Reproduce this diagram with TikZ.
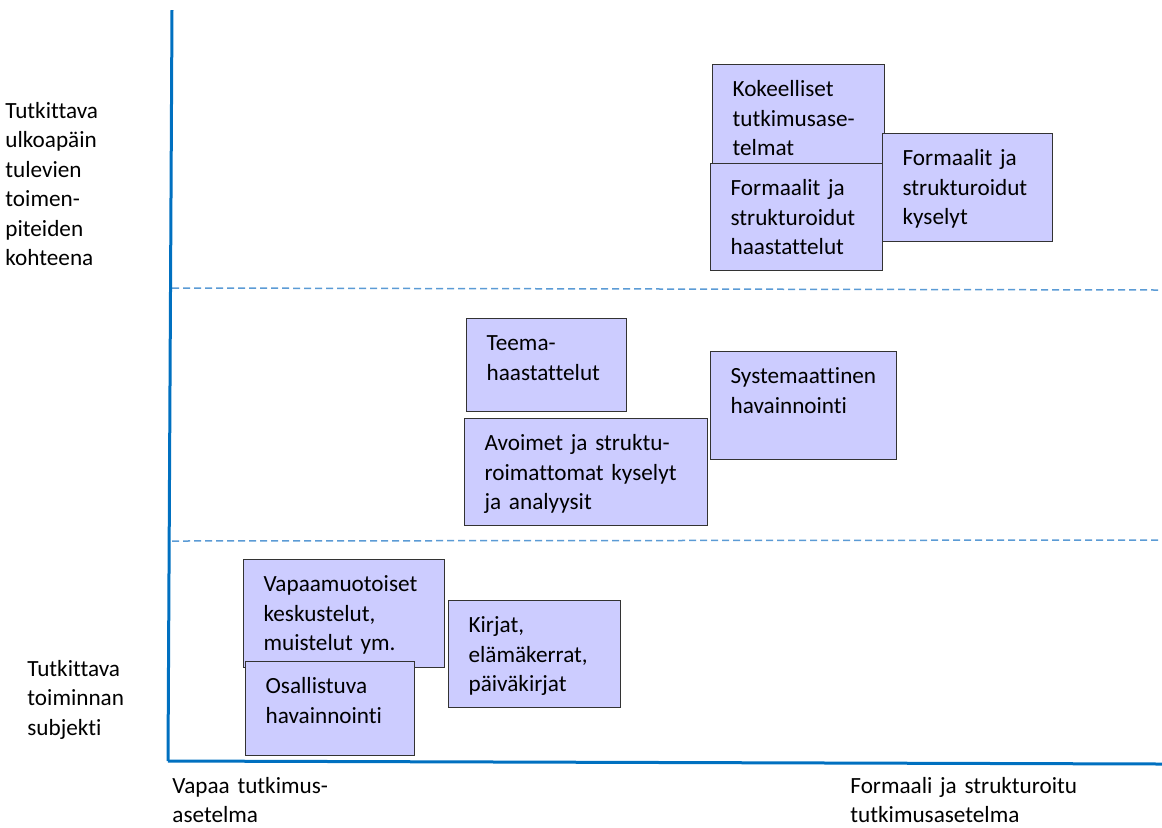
\documentclass[tikz,border=0pt]{standalone}
\usepackage{fontspec}
\setmainfont{Carlito}[Ligatures=NoCommon]
\usepackage{xcolor}
\usepackage{tikz}
\usetikzlibrary{positioning, calc}

\definecolor{axisblue}{HTML}{0070C0}
\definecolor{gridblue}{HTML}{5B9BD5}
\definecolor{boxfill}{HTML}{CCCCFF}

\begin{document}
\begin{tikzpicture}[x=0.5pt, y=-0.5pt,
    method/.style={draw=black!80, line width=0.6pt, fill=boxfill, rectangle, anchor=north west,
                   align=left, inner xsep=10pt, inner ysep=0pt, text height=16pt,
                   font=\fontsize{11.6}{14.75}\selectfont},
    axislabel/.style={anchor=base west, align=left, inner sep=0pt, text width=4cm,
                   font=\fontsize{11.6}{14.75}\selectfont},
    axis/.style={draw=axisblue, line width=1.5pt},
    level/.style={draw=gridblue, line width=0.75pt, dash pattern=on 3.5pt off 2pt}
]
\useasboundingbox (0,0) rectangle (1162,827);

% Axes
\coordinate (origin) at (168,761);
\coordinate (ytop) at (172,10);
\coordinate (xend) at (1162,764);
\coordinate (upleft) at (172,288);
\coordinate (upright) at (1160,290);
\coordinate (lowleft) at (172,541);
\coordinate (lowright) at (1160,540);
\draw[level] (upleft) -- (upright);
\draw[level] (lowleft) -- (lowright);
\draw[axis] (ytop) -- (origin);
\draw[axis] (origin) -- (xend);

% Axis labels
\node[axislabel] (ytoplabel) at (5,118) {Tutkittava\\ulkoapäin\\tulevien\\toimen-\\piteiden\\kohteena};
\node[axislabel] (ylowlabel) at (27,676) {Tutkittava\\toiminnan\\subjekti};
\node[axislabel] (xleftlabel) at (172,793) {Vapaa tutkimus-\\asetelma};
\node[axislabel] (xrightlabel) at (850,793) {Formaali ja strukturoitu\\tutkimusasetelma};

% Boxes
\node[method, text width=66pt, text depth=36pt] (kokeelliset) at (712,64) {Kokeelliset\\tutkimusase-\\telmat};
\node[method, text width=65pt, text depth=38pt] (kyselyt) at (882,133) {Formaalit ja\\strukturoidut\\kyselyt};
\node[method, text width=66pt, text depth=37.5pt] (haastattelut) at (710,163) {Formaalit ja\\strukturoidut\\haastattelut};
\node[method, text width=60pt, text depth=30.5pt] (teema) at (466,318) {Teema-\\haastattelut};
\node[method, text width=101.5pt, text depth=37.5pt] (avoimet) at (464,418) {Avoimet ja struktu-\\roimattomat kyselyt\\ja analyysit};
\node[method, text width=73pt, text depth=38pt] (systemaattinen) at (710,351) {Systemaattinen\\havainnointi};
\node[method, text width=80.5pt, text depth=38pt] (vapaamuotoiset) at (243,559) {Vapaamuotoiset\\keskustelut,\\muistelut ym.};
\node[method, text width=64.5pt, text depth=31pt] (osallistuva) at (245,661) {Osallistuva\\havainnointi};
\node[method, text width=66pt, text depth=37.5pt] (kirjat) at (448,600) {Kirjat,\\elämäkerrat,\\päiväkirjat};
\end{tikzpicture}
\end{document}
